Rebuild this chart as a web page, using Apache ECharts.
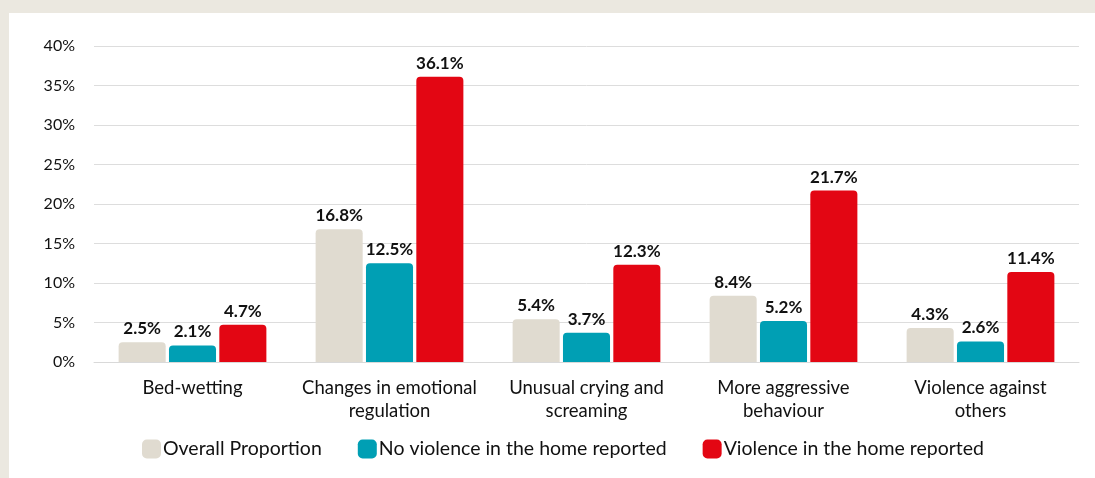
<!DOCTYPE html>
<html>
<head>
<meta charset="utf-8">
<script src="https://cdn.jsdelivr.net/npm/echarts@6/dist/echarts.min.js"></script>
<style>
  html, body { margin: 0; padding: 0; background: #ebe8e0; }
  #panel { position: absolute; left: 9px; top: 13px; width: 1086px; height: 465px; background: #fff; }
</style>
</head>
<body>
<div id="panel"></div>
<script>
// categories on x axis
const categories = [
    'Bed-wetting',
    'Changes in emotional\nregulation',
    'Unusual crying and\nscreaming',
    'More aggressive\nbehaviour',
    'Violence against\nothers'
];
const overall = [2.5, 16.8, 5.4, 8.4, 4.3];
const noViolence = [2.1, 12.5, 3.7, 5.2, 2.6];
const violence = [4.7, 36.1, 12.3, 21.7, 11.4];
const yTicks = [0, 5, 10, 15, 20, 25, 30, 35, 40];

const FONT = 'Lato';

function barSeries(name, data, color) {
    return {
        name: name,
        type: 'bar',
        data: data,
        barGap: '7%',
        barCategoryGap: '25%',
        itemStyle: { color: color, borderRadius: [4, 4, 0, 0] },
        label: {
            show: true,
            position: 'top',
            distance: 5,
            formatter: p => p.value.toFixed(1) + '%',
            color: '#111',
            fontFamily: FONT,
            fontWeight: 'bold',
            fontSize: 17
        }
    };
}

let chart = echarts.init(document.getElementById('panel'));
chart.setOption({
    animation: false,
    grid: { left: 85, right: 16, top: 33, bottom: 116 },
    legend: {
        left: 128,
        top: 421,
        itemWidth: 19,
        itemHeight: 19,
        itemGap: 36,
        icon: 'roundRect',
        textStyle: { fontFamily: FONT, fontSize: 19.5, color: '#111', padding: [0, 0, 0, -3] },
        data: ['Overall Proportion', 'No violence in the home reported', 'Violence in the home reported']
    },
    xAxis: {
        type: 'category',
        data: categories,
        axisLine: { lineStyle: { color: '#d9d9d9', width: 1 } },
        axisTick: { show: false },
        axisLabel: {
            interval: 0,
            fontFamily: FONT,
            fontSize: 18.5,
            color: '#111',
            margin: 15,
            lineHeight: 23
        }
    },
    yAxis: {
        type: 'value',
        min: yTicks[0],
        max: yTicks[yTicks.length - 1],
        interval: 5,
        axisLine: { show: false },
        axisTick: { show: false },
        splitLine: { lineStyle: { color: '#dddddd', width: 1 } },
        axisLabel: {
            formatter: '{value}%',
            fontFamily: FONT,
            fontSize: 16,
            color: '#111',
            margin: 19
        }
    },
    series: [
        barSeries('Overall Proportion', overall, '#e0dbd0'),
        barSeries('No violence in the home reported', noViolence, '#009fb4'),
        barSeries('Violence in the home reported', violence, '#e30613')
    ]
});
</script>
</body>
</html>
